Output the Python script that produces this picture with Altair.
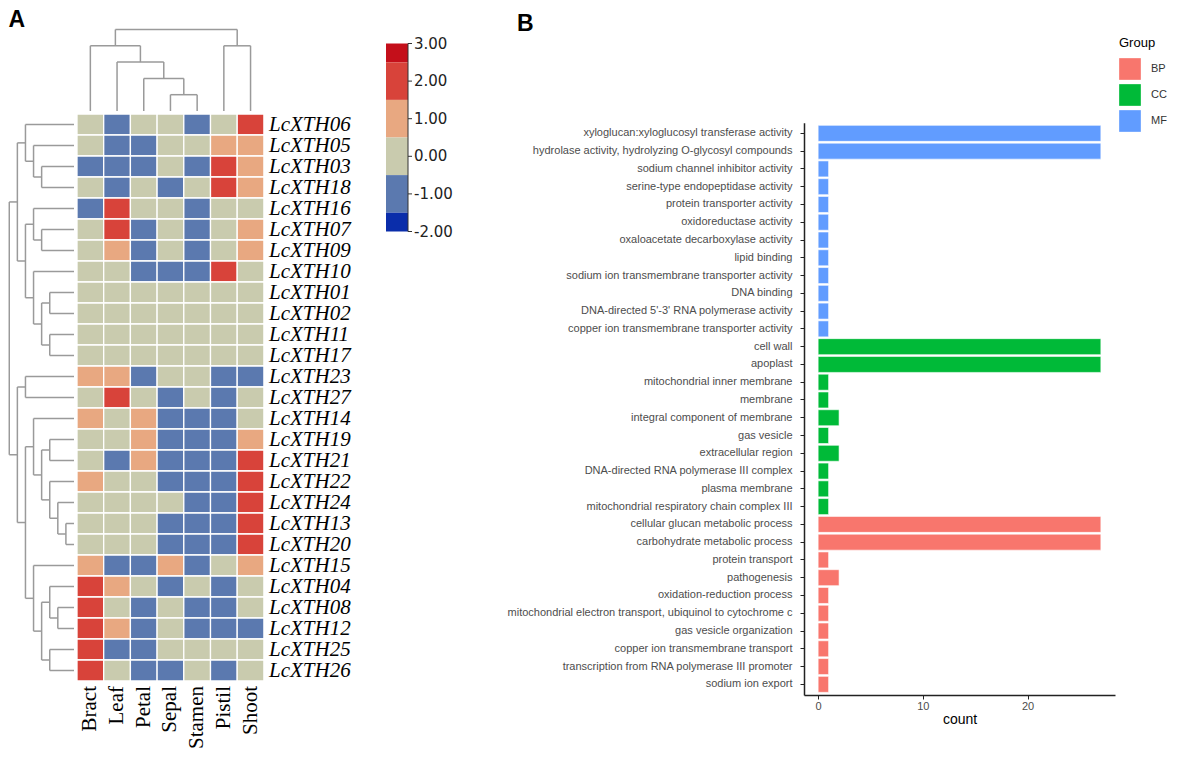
import altair as alt
import pandas as pd

# ---------------- data: panel A (heatmap) ----------------
genes = ["LcXTH06", "LcXTH05", "LcXTH03", "LcXTH18", "LcXTH16", "LcXTH07", "LcXTH09",
         "LcXTH10", "LcXTH01", "LcXTH02", "LcXTH11", "LcXTH17", "LcXTH23", "LcXTH27",
         "LcXTH14", "LcXTH19", "LcXTH21", "LcXTH22", "LcXTH24", "LcXTH13", "LcXTH20",
         "LcXTH15", "LcXTH04", "LcXTH08", "LcXTH12", "LcXTH25", "LcXTH26"]
tissues = ["Bract", "Leaf", "Petal", "Sepal", "Stamen", "Pistil", "Shoot"]

bract = [0, 0, -1, 0, -1, 0, 0, 0, 0, 0, 0, 0, 1, 0, 1, 0, 0, 1, 0, 0, 0, 1, 2, 2, 2, 2, 2]
leaf = [-1, -1, -1, -1, 2, 2, 1, 0, 0, 0, 0, 0, 1, 2, 0, 0, -1, 0, 0, 0, 0, -1, 1, 0, 1, -1, 0]
petal = [0, -1, -1, 0, 0, -1, -1, -1, 0, 0, 0, 0, -1, 0, 1, 1, 1, 0, 0, 0, 0, -1, 0, -1, -1, -1, -1]
sepal = [0, 0, 0, -1, 0, 0, 0, -1, 0, 0, 0, 0, 0, -1, -1, -1, -1, -1, 0, -1, -1, 1, -1, 0, 0, 0, -1]
stamen = [-1, 0, -1, 0, -1, -1, -1, -1, 0, 0, 0, 0, 0, 0, -1, -1, -1, -1, -1, -1, -1, -1, 0, -1, -1, 0, 0]
pistil = [0, 1, 2, 2, 0, 0, 0, 2, 0, 0, 0, 0, -1, -1, -1, -1, -1, -1, -1, -1, -1, 0, -1, -1, -1, 0, -1]
shoot = [2, 1, 1, 1, 0, 1, 1, 0, 0, 0, 0, 0, -1, 0, 0, 1, 2, 2, 2, 2, 2, 1, 0, 0, -1, 0, 0]
expr_cols = [bract, leaf, petal, sepal, stamen, pistil, shoot]

# dendrogram merges: (child a, child b, height); leaves are 0..n-1, merge k is node n+k
col_merges = [(3, 4, 1), (2, 7, 2), (1, 8, 3), (0, 9, 4), (5, 6, 4), (10, 11, 5)]
row_merges = [(2, 3, 4), (1, 27, 5), (0, 28, 6), (5, 6, 4), (4, 30, 5), (8, 9, 3),
              (10, 11, 3), (32, 33, 4), (7, 34, 5), (31, 35, 6), (29, 36, 7), (12, 13, 6),
              (15, 16, 3), (19, 20, 1), (18, 40, 2), (17, 41, 3), (39, 42, 4), (14, 43, 5),
              (23, 24, 2), (22, 45, 3), (25, 26, 3), (46, 47, 4), (21, 48, 5), (44, 49, 6),
              (38, 50, 7), (37, 51, 8)]

heat_levels = [-1, 0, 1, 2]
heat_colors = ["#5B79AF", "#C9CBAE", "#E8A881", "#D8433A"]

legend_ticks = [3, 2, 1, 0, -1, -2]
legend_lo = [2.5, 1.5, 0.5, -0.5, -1.5, -2.0]
legend_hi = [3.0, 2.5, 1.5, 0.5, -0.5, -1.5]
legend_colors = ["#C40F1A", "#D8433A", "#E8A881", "#C9CBAE", "#5B79AF", "#0A2DAA"]

# ---------------- data: panel B (GO bar chart) ----------------
go_terms = [
    "xyloglucan:xyloglucosyl transferase activity",
    "hydrolase activity, hydrolyzing O-glycosyl compounds",
    "sodium channel inhibitor activity",
    "serine-type endopeptidase activity",
    "protein transporter activity",
    "oxidoreductase activity",
    "oxaloacetate decarboxylase activity",
    "lipid binding",
    "sodium ion transmembrane transporter activity",
    "DNA binding",
    "DNA-directed 5'-3' RNA polymerase activity",
    "copper ion transmembrane transporter activity",
    "cell wall",
    "apoplast",
    "mitochondrial inner membrane",
    "membrane",
    "integral component of membrane",
    "gas vesicle",
    "extracellular region",
    "DNA-directed RNA polymerase III complex",
    "plasma membrane",
    "mitochondrial respiratory chain complex III",
    "cellular glucan metabolic process",
    "carbohydrate metabolic process",
    "protein transport",
    "pathogenesis",
    "oxidation-reduction process",
    "mitochondrial electron transport, ubiquinol to cytochrome c",
    "gas vesicle organization",
    "copper ion transmembrane transport",
    "transcription from RNA polymerase III promoter",
    "sodium ion export",
]
go_counts = [27, 27, 1, 1, 1, 1, 1, 1, 1, 1, 1, 1,
             27, 27, 1, 1, 2, 1, 2, 1, 1, 1,
             27, 27, 1, 2, 1, 1, 1, 1, 1, 1]
go_groups = ["MF"] * 12 + ["CC"] * 10 + ["BP"] * 10
group_names = ["BP", "CC", "MF"]
group_colors = ["#F8766D", "#00BA38", "#619CFF"]

# ---------------- layout geometry (page pixels) ----------------
ORIGIN_Y = 36.0               # where both panels' plot origins land (below the A/B titles)
X0, Y0 = 76.0, 114.0          # top-left corner of the heatmap
CW, CH = 26.7, 21.0           # cell width / height
PA_L, PA_R, PA_B = 8.0, 470.0, 746.0
LEFT_LEAF_PX, LEFT_STEP = 73.0, 8.09
TOP_LEAF_PX, TOP_STEP = 111.0, 16.3
LEG_X1, LEG_X2 = 385.0, 407.0
LEG_TOP, LEG_STEP = 43.5, 37.6
PB_W = 311.0                  # panel B plot width
PB_BAND_TOP, PB_BOTTOM = 122.7, 695.0


def ux(px):
    return (px - X0) / CW


def uy(py):
    return (py - Y0) / CH


def dendro(merges, n):
    pos = {i: i + 0.5 for i in range(n)}
    hgt = {i: 0.0 for i in range(n)}
    segs = []
    for k, (a, b, h) in enumerate(merges):
        for c in (a, b):
            segs.append(dict(p1=pos[c], p2=pos[c], h1=hgt[c], h2=h))
        segs.append(dict(p1=pos[a], p2=pos[b], h1=h, h2=h))
        pos[n + k] = (pos[a] + pos[b]) / 2
        hgt[n + k] = h
    return pd.DataFrame(segs)


cells = []
for j, t in enumerate(tissues):
    for i, g in enumerate(genes):
        cells.append(dict(x=j, x2=j + 1, y=i, y2=i + 1, v=expr_cols[j][i], gene=g, tissue=t))
cells = pd.DataFrame(cells)

cd = dendro(col_merges, len(tissues))
top_d = pd.DataFrame(dict(
    x=cd.p1, x2=cd.p2,
    y=[uy(TOP_LEAF_PX - h * TOP_STEP) for h in cd.h1],
    y2=[uy(TOP_LEAF_PX - h * TOP_STEP) for h in cd.h2]))
rd = dendro(row_merges, len(genes))
left_d = pd.DataFrame(dict(
    y=rd.p1, y2=rd.p2,
    x=[ux(LEFT_LEAF_PX - h * LEFT_STEP) for h in rd.h1],
    x2=[ux(LEFT_LEAF_PX - h * LEFT_STEP) for h in rd.h2]))
dendro_df = pd.concat([top_d, left_d], ignore_index=True)

row_lab = pd.DataFrame(dict(x=[ux(268)] * len(genes), y=[i + 0.5 for i in range(len(genes))], t=genes))
col_lab = pd.DataFrame(dict(x=[j + 0.5 for j in range(len(tissues))], y=[uy(686)] * len(tissues), t=tissues))


def leg_y(v):
    return uy(LEG_TOP + (3 - v) * LEG_STEP)


leg_blocks = pd.DataFrame(dict(
    x=[ux(LEG_X1)] * 6, x2=[ux(LEG_X2)] * 6,
    y=[leg_y(v) for v in legend_hi], y2=[leg_y(v) for v in legend_lo],
    c=legend_colors))
leg_line = pd.DataFrame(dict(x=[ux(LEG_X2)], x2=[ux(LEG_X2)],
                             y=[leg_y(max(legend_ticks))], y2=[leg_y(min(legend_ticks))]))
leg_tick = pd.DataFrame(dict(x=[ux(LEG_X2)] * 6, x2=[ux(LEG_X2 + 4)] * 6,
                             y=[leg_y(v) for v in legend_ticks], y2=[leg_y(v) for v in legend_ticks],
                             t=["%.2f" % v for v in legend_ticks]))

xs = alt.Scale(domain=[ux(PA_L), ux(PA_R)], nice=False, zero=False)
ys = alt.Scale(domain=[uy(ORIGIN_Y), uy(PA_B)], nice=False, zero=False, reverse=True)
X = lambda f: alt.X(f, type="quantitative", scale=xs, axis=None)
Y = lambda f: alt.Y(f, type="quantitative", scale=ys, axis=None)

heat = alt.Chart(cells).mark_rect(stroke="white", strokeWidth=1.3).encode(
    x=X("x"), x2="x2", y=Y("y"), y2="y2",
    color=alt.Color("v:O", scale=alt.Scale(domain=heat_levels, range=heat_colors), legend=None))
dend = alt.Chart(dendro_df).mark_rule(color="#9a9a9a", strokeWidth=1.5).encode(
    x=X("x"), x2="x2", y=Y("y"), y2="y2")
rlab = alt.Chart(row_lab).mark_text(align="left", baseline="middle", font="Liberation Serif",
                                    fontStyle="italic", fontSize=21, color="black").encode(
    x=X("x"), y=Y("y"), text="t:N")
clab = alt.Chart(col_lab).mark_text(align="right", baseline="middle", angle=270, font="Liberation Serif",
                                    fontSize=21, color="black").encode(
    x=X("x"), y=Y("y"), text="t:N")
lblk = alt.Chart(leg_blocks).mark_rect().encode(
    x=X("x"), x2="x2", y=Y("y"), y2="y2",
    color=alt.Color("c:N", scale=None, legend=None))
lline = alt.Chart(leg_line).mark_rule(color="#333333", strokeWidth=1).encode(
    x=X("x"), x2="x2", y=Y("y"), y2="y2")
ltick = alt.Chart(leg_tick).mark_rule(color="#333333", strokeWidth=1).encode(
    x=X("x"), x2="x2", y=Y("y"), y2="y2")
ltext = alt.Chart(leg_tick).mark_text(align="left", baseline="middle", font="DejaVu Sans",
                                      fontSize=15, color="#222222", dx=2).encode(
    x=X("x2"), y=Y("y"), text="t:N")

panel_title = dict(anchor="start", fontSize=23, fontWeight="bold", font="Liberation Sans",
                   color="black")

panel_a = alt.layer(heat, dend, rlab, clab, lblk, lline, ltick, ltext).properties(
    width=PA_R - PA_L, height=PA_B - ORIGIN_Y,
    title=alt.TitleParams("A", offset=-3, **panel_title))

# ---------------- panel B ----------------
go = pd.DataFrame(dict(term=go_terms, count=go_counts, Group=go_groups))

panel_b = alt.Chart(go).mark_bar(stroke="white", strokeWidth=0.6).encode(
    y=alt.Y("term:N", sort=go_terms,
            scale=alt.Scale(paddingInner=0.1, paddingOuter=0.15,
                            range=[PB_BAND_TOP - ORIGIN_Y, PB_BOTTOM - ORIGIN_Y]),
            axis=alt.Axis(title=None, labelFontSize=11, labelColor="#4d4d4d", labelLimit=400,
                          labelFont="Liberation Sans", tickColor="#222222", tickSize=4,
                          domainColor="#222222", domainWidth=1.5, labelPadding=8, grid=False)),
    x=alt.X("count:Q", scale=alt.Scale(domain=[-1.35, 28.35], nice=False, zero=False),
            axis=alt.Axis(values=[0, 10, 20], title="count", grid=False, labelFontSize=11,
                          labelColor="#4d4d4d", labelFont="Liberation Sans", tickColor="#222222",
                          tickSize=4, domainColor="#222222", domainWidth=1.5, labelPadding=1,
                          titleFontSize=14, titleFontWeight="normal", titleColor="black",
                          titleFont="Liberation Sans", titlePadding=1)),
    x2=alt.datum(0),
    color=alt.Color("Group:N", scale=alt.Scale(domain=group_names, range=group_colors),
                    legend=alt.Legend(orient="none", legendX=315, legendY=37 - ORIGIN_Y, title="Group",
                                      titleFontSize=13, titleFontWeight="normal", titleColor="black",
                                      titleFont="Liberation Sans", titlePadding=8,
                                      symbolType="square", symbolSize=470, symbolStrokeWidth=0,
                                      symbolOpacity=1, labelFontSize=11, labelColor="#333333",
                                      labelFont="Liberation Sans", rowPadding=4, labelOffset=10)),
).properties(
    width=PB_W, height=PB_BOTTOM - ORIGIN_Y,
    title=alt.TitleParams("B", dx=10, offset=0, **panel_title))

chart = alt.hconcat(panel_a, panel_b, spacing=34).resolve_scale(color="independent").properties(
    padding=0).configure(font="Liberation Sans").configure_view(stroke="transparent")

chart.save("out.html", embed_options={"renderer": "svg", "actions": False})
